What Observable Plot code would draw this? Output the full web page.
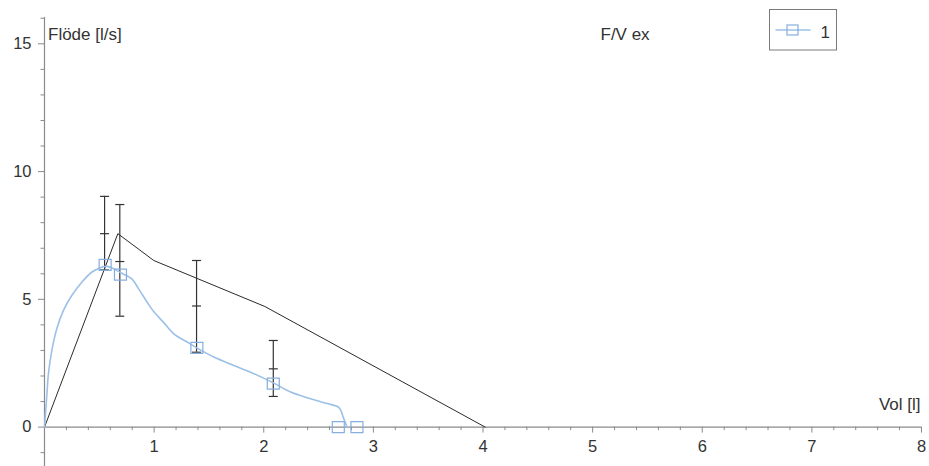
<!DOCTYPE html>
<html>
<head>
<meta charset="utf-8">
<script src="https://cdn.jsdelivr.net/npm/d3@7"></script>
<script src="https://cdn.jsdelivr.net/npm/@observablehq/plot@0.6"></script>
<style>
  html, body { margin: 0; padding: 0; background: #fff; }
  #wrap { position: relative; width: 929px; height: 466px; overflow: hidden; }
  #legend { position: absolute; left: 0; top: 0; }
</style>
</head>
<body>
<div id="wrap"></div>
<script>
// ---- data ----
// measured flow–volume curve (series "1")
const measVol  = [0, 0.005, 0.02, 0.036, 0.067, 0.112, 0.173, 0.249, 0.34, 0.43, 0.508, 0.569, 0.63, 0.705, 0.797, 0.86, 0.95, 1.0, 1.09, 1.18, 1.30, 1.393, 1.545, 1.727, 1.91, 2.092, 2.245, 2.427, 2.58, 2.686, 2.73, 2.76];
const measFlow = [0, 0.3, 1.17, 2.09, 3.0, 3.85, 4.57, 5.15, 5.67, 6.06, 6.24, 6.29, 6.2, 6.02, 5.8, 5.4, 4.8, 4.5, 4.08, 3.65, 3.33, 3.09, 2.74, 2.41, 2.09, 1.72, 1.37, 1.11, 0.92, 0.76, 0.33, 0];
// square markers on the measured curve
const markVol  = [0.553, 0.693, 1.39, 2.087, 2.68, 2.85];
const markFlow = [6.35, 5.97, 3.1, 1.7, 0, 0];
// predicted (reference) curve
const predVol  = [0, 0.669, 0.997, 2.01, 4.02];
const predFlow = [0, 7.57, 6.52, 4.72, 0];
// reference ranges (error bars)
const barVol  = [0.548, 0.687, 1.387, 2.087];
const barHigh = [9.03, 8.71, 6.52, 3.39];
const barMid  = [7.57, 6.48, 4.74, 2.28];
const barLow  = [6.15, 4.34, 2.93, 1.2];
// axis ticks
const volTicks = [1, 2, 3, 4, 5, 6, 7, 8];
const volMinorTicks = [0.2, 0.4, 0.6, 0.8, 1.2, 1.4, 1.6, 1.8, 2.2, 2.4, 2.6, 2.8, 3.2, 3.4, 3.6, 3.8, 4.2, 4.4, 4.6, 4.8, 5.2, 5.4, 5.6, 5.8, 6.2, 6.4, 6.6, 6.8, 7.2, 7.4, 7.6, 7.8];
const flowTicks = [0, 5, 10, 15];
const flowMinorTicks = [-1, 1, 2, 3, 4, 6, 7, 8, 9, 11, 12, 13, 14, 16];
// texts
const yTitle = "Flöde [l/s]";
const xTitle = "Vol [l]";
const chartTitle = "F/V ex";
const seriesName = "1";

// ---- tables ----
const meas = measVol.map((v, i) => ({vol: v, flow: measFlow[i]}));
const marks = markVol.map((v, i) => ({vol: v, flow: markFlow[i]}));
const pred = predVol.map((v, i) => ({vol: v, flow: predFlow[i]}));
const bars = barVol.map((v, i) => ({vol: v, hi: barHigh[i], mid: barMid[i], lo: barLow[i]}));

const blueLine = "#9cc0e7";
const blueMark = "#86aede";
const axisGray = "#8a8a8a";
const textCol = "#333";

const hline = {draw(ctx) { ctx.moveTo(-4.5, 0); ctx.lineTo(4.5, 0); }};
const box = {draw(ctx) { ctx.rect(-6, -5.5, 12, 11); }};

const chart = Plot.plot({
  width: 929,
  height: 466,
  marginLeft: 44,
  marginRight: 8,
  marginTop: 17,
  marginBottom: 39.4,
  x: {domain: [0, 8]},
  y: {domain: [0, 16.03]},
  style: {fontFamily: "'Liberation Sans', Arial, sans-serif", fontSize: "16.5px", color: textCol, background: "white", overflow: "visible"},
  marks: [
    // axes
    Plot.axisX(volMinorTicks, {anchor: "bottom", tickSize: 3.5, tickFormat: () => "", label: null, stroke: axisGray}),
    Plot.axisX(volTicks, {anchor: "bottom", tickSize: 6, tickPadding: 7, label: null, stroke: axisGray, fill: textCol}),
    Plot.axisY(flowMinorTicks, {anchor: "left", tickSize: 3.5, tickFormat: () => "", label: null, stroke: axisGray}),
    Plot.axisY(flowTicks, {anchor: "left", tickSize: 6, tickPadding: 7, label: null, stroke: axisGray, fill: textCol}),
    Plot.ruleY([0], {stroke: axisGray, strokeWidth: 1.2}),
    Plot.ruleX([0], {stroke: axisGray, strokeWidth: 1.2, insetBottom: -39.4}),
    // predicted curve
    Plot.line(pred, {x: "vol", y: "flow", stroke: "#2a2a2a", strokeWidth: 1}),
    // error bars
    Plot.ruleX(bars, {x: "vol", y1: "lo", y2: "hi", stroke: "#333", strokeWidth: 1.2}),
    Plot.dot(bars, {x: "vol", y: "hi", symbol: hline, stroke: "#333", strokeWidth: 1.2}),
    Plot.dot(bars, {x: "vol", y: "mid", symbol: hline, stroke: "#333", strokeWidth: 1.2}),
    Plot.dot(bars, {x: "vol", y: "lo", symbol: hline, stroke: "#333", strokeWidth: 1.2}),
    // measured curve
    Plot.line(meas, {x: "vol", y: "flow", stroke: blueLine, strokeWidth: 1.6, curve: "catmull-rom"}),
    Plot.dot(marks, {x: "vol", y: "flow", symbol: box, stroke: blueMark, strokeWidth: 1.2, fill: "none"}),
    // titles
    Plot.text([yTitle], {frameAnchor: "top-left", textAnchor: "start", dx: 3.5, dy: 10.5, fill: textCol, fontSize: 17}),
    Plot.text([xTitle], {frameAnchor: "bottom-right", textAnchor: "end", dx: -1, dy: -17, fill: textCol, fontSize: 17}),
    Plot.text([chartTitle], {frameAnchor: "top-left", textAnchor: "start", dx: 556, dy: 10, fill: textCol, fontSize: 17})
  ]
});

const wrap = document.getElementById("wrap");
wrap.appendChild(chart);

// legend overlay
const leg = d3.select(wrap).append("svg")
  .attr("id", "legend")
  .attr("width", 929).attr("height", 466)
  .style("pointer-events", "none");
const lg = leg.append("g").attr("transform", "translate(769.5,9.5)");
lg.append("rect").attr("width", 67).attr("height", 40.5)
  .attr("fill", "white").attr("stroke", "#7a7a7a").attr("stroke-width", 1);
lg.append("line").attr("x1", 6).attr("x2", 41).attr("y1", 20.5).attr("y2", 20.5)
  .attr("stroke", blueLine).attr("stroke-width", 1.6);
lg.append("rect").attr("x", 17.5).attr("y", 15.5).attr("width", 11).attr("height", 10)
  .attr("fill", "none").attr("stroke", blueMark).attr("stroke-width", 1.2);
lg.append("text").attr("x", 51).attr("y", 28.3).text(seriesName)
  .attr("fill", textCol).style("font-family", "'Liberation Sans', Arial, sans-serif").style("font-size", "17px");
</script>
</body>
</html>
